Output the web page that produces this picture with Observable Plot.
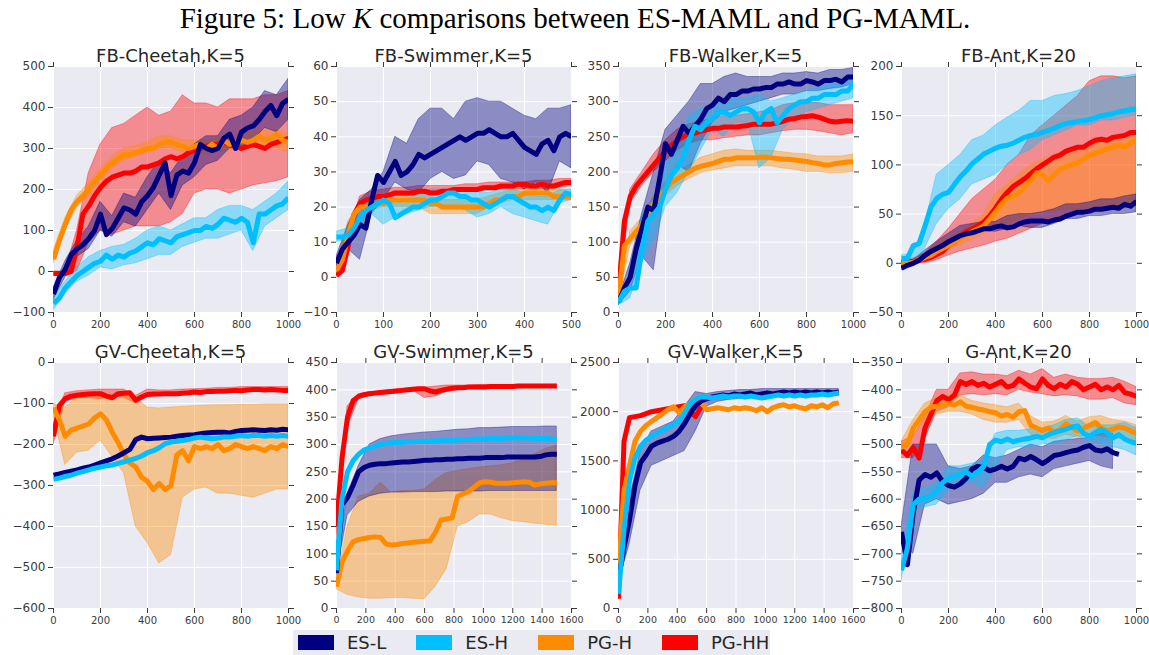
<!DOCTYPE html>
<html><head><meta charset="utf-8">
<script src="https://cdn.jsdelivr.net/npm/d3@7"></script>
<script src="https://cdn.jsdelivr.net/npm/@observablehq/plot@0.6"></script>
<style>
body{margin:0;background:#fff;}
#root{position:relative;width:1149px;height:655px;overflow:hidden;font-family:"DejaVu Sans",sans-serif;background:#fff;}
#legend{position:absolute;left:293px;top:630px;width:477px;height:25px;background:#EAEAF2;display:flex;align-items:center;padding-left:5px;box-sizing:border-box;font-family:"DejaVu Sans",sans-serif;font-size:18px;color:#262626;white-space:nowrap;}
#legend .sw{width:36px;height:15px;margin-right:13px;flex:0 0 auto;}
#legend .lb{margin-right:30px;line-height:25px;flex:0 0 auto;white-space:nowrap;}
</style></head><body><div id="root"></div>
<script>
// ---------- shared x grids and ticks ----------
const X1000 = [0,25,50,75,100,125,150,175,200,225,250,275,300,325,350,375,400,425,450,475,500,525,550,575,600,625,650,675,700,725,750,775,800,825,850,875,900,925,950,975,1000];
const B1000 = [0,50,100,150,200,250,300,350,400,450,500,550,600,650,700,750,800,850,900,950,1000];
const X500 = [0,12.5,25,37.5,50,62.5,75,87.5,100,112.5,125,137.5,150,162.5,175,187.5,200,212.5,225,237.5,250,262.5,275,287.5,300,312.5,325,337.5,350,362.5,375,387.5,400,412.5,425,437.5,450,462.5,475,487.5,500];
const B500 = [0,25,50,75,100,125,150,175,200,225,250,275,300,325,350,375,400,425,450,475,500];
const X1500 = [0,37.5,75,112.5,150,187.5,225,262.5,300,337.5,375,412.5,450,487.5,525,562.5,600,637.5,675,712.5,750,787.5,825,862.5,900,937.5,975,1012.5,1050,1087.5,1125,1162.5,1200,1237.5,1275,1312.5,1350,1387.5,1425,1462.5,1500];
const B1500 = [0,75,150,225,300,375,450,525,600,675,750,825,900,975,1050,1125,1200,1275,1350,1425,1500];

const XT1000 = [0,200,400,600,800,1000];
const XT500 = [0,100,200,300,400,500];
const XT1600 = [0,200,400,600,800,1000,1200,1400,1600];
const YT_fbCheetah = [-100,0,100,200,300,400,500];
const YT_fbSwimmer = [-10,0,10,20,30,40,50,60];
const YT_fbWalker = [0,50,100,150,200,250,300,350];
const YT_fbAnt = [-50,0,50,100,150,200];
const YT_gvCheetah = [-600,-500,-400,-300,-200,-100,0];
const YT_gvSwimmer = [0,50,100,150,200,250,300,350,400,450];
const YT_gvWalker = [0,500,1000,1500,2000,2500];
const YT_gAnt = [-800,-750,-700,-650,-600,-550,-500,-450,-400,-350];

const SERIES = ["ES-L","ES-H","PG-H","PG-HH"];
const COLORS = ["#000080","#00BFFF","#FF8C00","#FF0000"];

// ---------- FB-Cheetah ----------
const fbCheetah_ESL = [-55,-15,5,40,55,65,80,100,140,90,105,130,155,150,140,170,185,205,235,265,185,235,245,240,265,310,300,295,300,325,335,300,340,350,355,370,390,405,380,410,420];
const fbCheetah_ESL_lo = [-70,-15,35,55,100,85,120,110,150,190,150,210,230,260,270,300,300,320,350,340,370];
const fbCheetah_ESL_hi = [-40,25,75,110,170,135,190,180,230,270,240,280,310,330,330,370,380,400,440,430,470];
const fbCheetah_ESH = [-78,-65,-40,-25,-10,0,10,20,25,40,30,40,35,45,50,60,70,65,80,75,70,85,90,95,100,100,110,105,115,130,125,120,130,120,70,140,140,150,160,165,180];
const fbCheetah_ESH_lo = [-95,-55,-25,-10,10,5,15,20,30,40,40,60,70,80,80,90,100,50,110,130,150];
const fbCheetah_ESH_hi = [-60,-25,10,35,50,60,65,80,100,110,100,115,130,130,150,160,160,150,170,190,220];
const fbCheetah_PGH = [30,75,115,150,170,185,200,220,235,250,265,275,285,285,290,295,300,300,310,315,315,310,305,300,305,310,300,310,300,320,310,315,320,315,320,330,320,325,335,320,315];
const fbCheetah_PGH_lo = [20,100,155,185,220,250,270,280,290,300,300,290,290,285,290,295,300,300,305,300,290];
const fbCheetah_PGH_hi = [50,130,185,215,250,280,300,305,315,330,330,320,320,320,325,330,335,340,345,345,335];
const fbCheetah_PGHH = [-5,-5,-5,0,60,140,160,185,205,220,230,235,240,240,245,255,255,260,265,275,280,275,280,290,295,300,305,310,310,315,310,305,300,305,310,305,300,310,315,320,325];
const fbCheetah_PGHH_lo = [-10,-10,0,70,100,90,100,110,110,110,120,140,190,200,200,190,200,210,215,220,230];
const fbCheetah_PGHH_hi = [0,0,100,240,310,350,360,380,400,380,390,430,410,410,400,420,420,420,430,430,440];

// ---------- FB-Swimmer ----------
const fbSwimmer_ESL = [4,8,10,12,15,14,22,29,27,30,33,29,30,32,35,34,35,36,37,38,39,40,39,40,41,41,42,41,40,40,41,39,37,36,35,38,39,36,40,41,40];
const fbSwimmer_ESL_lo = [3,8,5,18,22,27,25,24,28,30,28,29,33,32,28,27,25,27,24,33,31];
const fbSwimmer_ESL_hi = [6,15,22,25,30,40,38,45,48,48,45,50,51,50,50,48,46,45,48,48,49];
const fbSwimmer_ESH = [11.5,11.5,12,14,17,19,20,21,22,21,17,18,19,20,20,21,22,22,23,24,24,23,23,22,22,21,20,21,22,23,23,22,21,20,20,19,20,19,22,24,23.5];
const fbSwimmer_ESH_lo = [10,11,15,18,15,17,18,19,20,20,20,19,17,18,20,18,17,16,15,21,22];
const fbSwimmer_ESH_hi = [13,14,20,22,23,21,22,24,25,25,25,25,24,24,25,25,24,23,23,25,25];
const fbSwimmer_PGH = [2,5,12,18,20,20,20,21,21,22,22,22,22,22,22,22,21,21,20,20,20,20,20,20,20,20,21,22,22,23,23,23,24,24,24,24,24,23,23,23,23];
const fbSwimmer_PGH_lo = [1,10,19,19,20,20,20,20,18,18,18,18,18,20,21,22,22,22,22,22,22];
const fbSwimmer_PGH_hi = [3,16,21,23,23,24,24,24,23,22,22,22,22,23,24,25,25,26,26,25,24];
const fbSwimmer_PGHH = [0.5,2,9,18,21,22,22.5,23,23,23.5,24,24,24,24,24.5,24.5,24,24,24.5,24.5,25,25,25,25,25,25.5,25.5,25.5,26,26,26,26.5,26.5,26,26,26.5,26,26,26.5,27,27];
const fbSwimmer_PGHH_lo = [0,6,20,22,23,23,23,23.5,24,24,24.5,24.5,24.5,25,25,25,25,25,25,25.5,26];
const fbSwimmer_PGHH_hi = [1,12,23,24.5,25,25.5,25.5,26,26,26,26,26.5,26.5,27,27,27,27,27.5,27.5,28,28];

// ---------- FB-Walker ----------
const fbWalker_ESL = [15,35,50,90,120,150,145,190,240,225,245,265,255,265,275,290,295,305,300,310,310,315,315,318,318,320,320,325,325,328,325,325,330,328,325,330,330,332,328,335,335];
const fbWalker_ESL_lo = [10,30,80,60,180,210,200,240,270,285,290,295,300,305,310,310,315,315,318,320,325];
const fbWalker_ESL_hi = [20,70,140,200,260,280,300,325,325,335,340,335,335,335,340,340,342,340,345,345,348];
const fbWalker_ESH = [15,30,35,35,90,130,140,150,175,195,205,220,245,265,260,270,275,285,285,280,285,290,290,285,270,285,290,270,280,290,295,300,300,305,305,310,310,310,315,315,325];
const fbWalker_ESH_lo = [10,20,70,100,150,170,200,230,260,250,270,270,205,220,260,275,285,290,295,300,305];
const fbWalker_ESH_hi = [25,50,140,160,210,230,280,290,295,300,305,305,310,300,305,310,315,320,325,330,340];
const fbWalker_PGH = [20,95,105,115,125,140,155,165,175,185,190,195,200,205,208,210,212,215,218,218,220,220,220,220,221,221,220,219,218,218,217,216,215,213,212,210,210,212,213,214,214];
const fbWalker_PGH_lo = [15,95,115,145,165,180,190,198,202,205,208,208,208,208,205,203,200,200,198,198,200];
const fbWalker_PGH_hi = [25,115,135,165,185,200,210,220,225,230,232,230,230,230,228,226,225,222,222,222,225];
const fbWalker_PGHH = [30,130,165,180,190,200,210,220,230,238,245,250,255,255,258,260,262,262,264,264,264,265,266,268,268,268,268,270,272,275,276,278,279,280,278,275,272,271,272,273,272];
const fbWalker_PGHH_lo = [25,155,180,200,215,230,240,245,245,248,250,252,252,255,258,260,260,258,255,252,255];
const fbWalker_PGHH_hi = [35,175,200,225,245,260,268,272,275,280,280,282,285,288,295,298,298,298,295,295,295];

// ---------- FB-Ant ----------
const fbAnt_ESL = [-5,-2,0,3,8,12,15,18,22,25,28,30,31,33,35,35,37,38,36,37,40,42,43,43,43,42,44,45,48,50,52,52,53,55,55,56,57,56,60,58,63];
const fbAnt_ESL_lo = [-7,-2,8,15,22,28,30,33,32,35,38,36,36,40,45,45,48,48,50,50,52];
const fbAnt_ESL_hi = [-3,3,13,22,30,38,40,42,42,48,50,50,52,55,60,60,62,65,65,68,70];
const fbAnt_ESH = [5,5,18,20,38,57,66,70,72,80,88,94,101,106,111,114,117,119,120,122,125,128,130,131,133,135,137,140,142,143,144,145,146,148,150,151,152,154,155,156,157];
const fbAnt_ESH_lo = [0,0,15,40,55,65,80,85,90,100,110,115,125,130,135,140,140,145,145,148,150];
const fbAnt_ESH_hi = [8,10,40,90,100,110,125,130,140,148,155,165,165,170,172,175,180,185,188,190,192];
const fbAnt_PGH = [0,0,1,3,6,8,12,15,18,22,25,29,32,35,38,45,52,60,66,68,72,78,84,92,90,84,90,96,98,100,102,106,110,112,114,116,118,120,118,122,126];
const fbAnt_PGH_lo = [-2,0,3,8,14,18,24,30,35,40,45,50,52,53,55,55,56,58,58,60,62];
const fbAnt_PGH_hi = [2,3,10,20,25,32,40,50,70,80,90,100,105,110,115,118,122,125,128,130,132];
const fbAnt_PGHH = [0,1,2,3,4,6,9,12,18,22,28,32,35,38,42,48,56,65,72,78,82,86,91,96,100,104,108,110,114,116,118,118,122,125,126,125,128,129,130,133,133];
const fbAnt_PGHH_lo = [-3,-1,0,3,8,12,15,18,22,25,30,35,40,45,48,50,52,54,55,56,58];
const fbAnt_PGHH_hi = [3,5,10,22,35,50,65,75,85,100,110,130,140,150,160,170,185,190,190,188,190];

// ---------- GV-Cheetah ----------
const gvCheetah_ESL = [-275,-272,-268,-265,-262,-258,-255,-250,-245,-240,-235,-228,-220,-212,-188,-182,-186,-185,-184,-183,-182,-180,-178,-177,-176,-174,-172,-171,-170,-170,-172,-168,-166,-165,-164,-165,-166,-164,-165,-163,-164];
const gvCheetah_ESH = [-285,-282,-278,-275,-270,-266,-262,-258,-255,-252,-250,-246,-242,-238,-234,-228,-220,-215,-208,-198,-194,-192,-190,-188,-184,-182,-184,-186,-184,-182,-182,-180,-178,-180,-178,-178,-180,-178,-180,-178,-180];
const gvCheetah_PGH = [-110,-140,-180,-165,-160,-155,-150,-135,-125,-140,-170,-195,-225,-245,-255,-280,-290,-310,-295,-310,-300,-225,-215,-240,-205,-210,-205,-210,-200,-215,-210,-200,-205,-210,-205,-210,-215,-205,-210,-200,-205];
const gvCheetah_PGH_lo = [-130,-250,-220,-215,-190,-230,-270,-400,-440,-490,-470,-330,-310,-305,-320,-320,-325,-330,-320,-310,-310];
const gvCheetah_PGH_hi = [-100,-110,-85,-80,-78,-80,-82,-85,-110,-112,-110,-108,-106,-105,-104,-104,-103,-103,-102,-102,-102];
const gvCheetah_PGHH = [-180,-105,-88,-82,-80,-78,-77,-76,-76,-82,-86,-76,-75,-74,-92,-84,-78,-77,-77,-76,-76,-76,-75,-74,-72,-73,-71,-71,-70,-70,-69,-68,-69,-67,-66,-66,-67,-66,-67,-68,-68];
const gvCheetah_PGHH_lo = [-200,-95,-88,-86,-90,-82,-86,-100,-84,-82,-80,-78,-78,-76,-74,-74,-72,-72,-72,-72,-72];
const gvCheetah_PGHH_hi = [-150,-75,-70,-68,-66,-66,-66,-82,-66,-68,-68,-66,-65,-64,-62,-62,-60,-60,-60,-60,-60];

// ---------- GV-Swimmer ----------
const gvSwimmer_ESL = [65,190,203,225,250,258,262,264,265,265,266,267,268,268,269,270,271,271,272,272,273,273,274,274,275,275,275,276,276,276,276,277,277,277,277,277,277,278,281,282,282];
const gvSwimmer_ESL_lo = [60,170,195,205,210,212,212,213,213,213,214,214,214,214,215,215,215,215,215,215,215];
const gvSwimmer_ESL_hi = [70,210,260,300,310,315,318,320,322,323,325,327,328,330,330,331,332,332,332,333,333];
const gvSwimmer_ESH = [70,200,250,270,282,290,294,297,300,302,303,304,304,305,305,306,306,306,307,307,308,308,308,309,309,310,310,310,311,311,311,312,312,312,312,312,311,311,311,310,309];
const gvSwimmer_PGH = [40,85,105,122,126,128,130,131,130,118,116,117,119,120,121,122,123,124,140,162,164,166,205,210,214,222,230,232,231,229,229,229,230,231,232,231,226,228,229,230,230];
const gvSwimmer_PGH_lo = [35,25,20,18,18,19,19,18,17,40,72,150,158,172,172,165,160,158,155,153,152];
const gvSwimmer_PGH_hi = [45,150,205,210,230,212,215,215,218,235,248,252,255,258,260,262,266,272,282,292,298];
const gvSwimmer_PGHH = [150,275,350,380,388,391,393,394,395,396,397,398,399,400,401,402,402,398,396,399,401,403,404,404,405,405,405,405,406,406,406,406,406,407,407,407,407,407,407,407,407];
const gvSwimmer_PGHH_lo = [130,330,383,389,392,394,396,398,385,388,396,400,402,403,404,404,405,405,405,405,405];
const gvSwimmer_PGHH_hi = [170,370,392,396,398,400,402,404,404,406,408,408,408,409,409,409,409,409,409,409,409];

// ---------- GV-Walker ----------
const gvWalker_ESL = [300,620,900,1250,1480,1560,1650,1680,1700,1720,1750,1800,1880,1980,2060,2110,2130,2150,2160,2170,2160,2180,2170,2180,2190,2170,2180,2190,2180,2190,2200,2190,2200,2190,2200,2190,2200,2190,2200,2190,2200];
const gvWalker_ESL_lo = [250,650,1200,1450,1500,1550,1600,1800,2050,2100,2120,2130,2140,2140,2150,2150,2160,2160,2160,2160,2160];
const gvWalker_ESL_hi = [350,1100,1600,1800,1850,1900,2050,2200,2180,2200,2210,2220,2220,2230,2230,2230,2230,2230,2230,2230,2230];
const gvWalker_ESH = [150,800,1300,1530,1650,1710,1750,1780,1810,1840,1870,1900,1990,2080,2130,2150,2150,2140,2150,2160,2150,2160,2160,2150,2160,2150,2140,2150,2160,2170,2160,2170,2160,2170,2160,2170,2170,2180,2170,2180,2190];
const gvWalker_PGH = [400,1200,1450,1700,1800,1860,1900,1940,1980,2020,2050,1990,2050,2080,2140,2100,2020,2030,2040,2030,2020,2040,2030,2040,2030,2010,2040,2000,2040,2060,2070,2050,2060,2040,2030,2060,2050,2070,2040,2080,2090];
const gvWalker_PGHH = [100,1700,1940,1950,1960,1980,2000,2010,2020,2030,2040,2050,2060,2000,1950,2050];

// ---------- G-Ant ----------
const gAnt_ESL = [-660,-720,-625,-565,-555,-560,-552,-568,-575,-578,-572,-562,-545,-540,-542,-548,-545,-540,-545,-540,-525,-528,-522,-528,-535,-528,-520,-518,-515,-512,-510,-505,-502,-510,-512,-508,-515,-518];
const gAnt_ESL_lo = [-680,-700,-610,-600,-610,-605,-600,-590,-570,-570,-560,-555,-560,-545,-540,-535,-530,-540,-545];
const gAnt_ESL_hi = [-650,-500,-500,-500,-540,-545,-540,-520,-525,-520,-510,-500,-505,-495,-492,-490,-488,-480,-480];
const gAnt_ESH = [-730,-690,-610,-600,-598,-595,-585,-570,-562,-558,-555,-550,-558,-550,-540,-500,-492,-495,-490,-495,-492,-490,-488,-485,-488,-482,-478,-475,-472,-468,-466,-480,-485,-478,-472,-478,-488,-482,-490,-495,-498];
const gAnt_ESH_lo = [-750,-620,-615,-610,-585,-575,-570,-580,-545,-510,-505,-505,-500,-500,-492,-485,-495,-500,-505,-510,-520];
const gAnt_ESH_hi = [-700,-590,-580,-570,-540,-540,-535,-530,-480,-475,-475,-472,-470,-465,-455,-452,-468,-465,-465,-460,-470];
const gAnt_PGH = [-505,-500,-470,-455,-440,-432,-430,-428,-425,-428,-422,-430,-432,-435,-437,-440,-442,-448,-445,-450,-440,-438,-465,-470,-475,-470,-478,-472,-462,-470,-475,-470,-465,-460,-470,-475,-472,-468,-470,-475,-480];
const gAnt_PGH_lo = [-515,-485,-455,-445,-440,-440,-445,-455,-460,-460,-455,-482,-488,-490,-482,-488,-482,-485,-488,-490,-495];
const gAnt_PGH_hi = [-495,-455,-425,-415,-410,-410,-420,-425,-428,-432,-425,-448,-460,-458,-448,-458,-450,-448,-455,-458,-465];
const gAnt_PGHH = [-510,-520,-505,-525,-470,-445,-420,-412,-418,-410,-385,-390,-385,-392,-388,-395,-390,-385,-395,-392,-380,-388,-395,-398,-380,-392,-398,-390,-395,-385,-390,-400,-395,-390,-400,-395,-400,-392,-405,-408,-412];
const gAnt_PGHH_lo = [-525,-525,-490,-440,-432,-410,-408,-410,-408,-410,-400,-405,-408,-412,-410,-412,-418,-418,-415,-425,-428];
const gAnt_PGHH_hi = [-495,-485,-450,-400,-400,-370,-368,-372,-372,-375,-365,-372,-362,-378,-372,-378,-380,-380,-378,-385,-395];

// ---------- panel configuration (built from the arrays above) ----------
const panels = [
  {title:"FB-Cheetah,K=5", left:53, top:66, xd:[0,1000], xt:XT1000, yd:[-100,500], yt:YT_fbCheetah, xs:X1000, bx:B1000,
   s:[[fbCheetah_ESL,fbCheetah_ESL_lo,fbCheetah_ESL_hi],[fbCheetah_ESH,fbCheetah_ESH_lo,fbCheetah_ESH_hi],[fbCheetah_PGH,fbCheetah_PGH_lo,fbCheetah_PGH_hi],[fbCheetah_PGHH,fbCheetah_PGHH_lo,fbCheetah_PGHH_hi]]},
  {title:"FB-Swimmer,K=5", left:336, top:66, xd:[0,500], xt:XT500, yd:[-10,60], yt:YT_fbSwimmer, xs:X500, bx:B500,
   s:[[fbSwimmer_ESL,fbSwimmer_ESL_lo,fbSwimmer_ESL_hi],[fbSwimmer_ESH,fbSwimmer_ESH_lo,fbSwimmer_ESH_hi],[fbSwimmer_PGH,fbSwimmer_PGH_lo,fbSwimmer_PGH_hi],[fbSwimmer_PGHH,fbSwimmer_PGHH_lo,fbSwimmer_PGHH_hi]]},
  {title:"FB-Walker,K=5", left:618, top:66, xd:[0,1000], xt:XT1000, yd:[0,350], yt:YT_fbWalker, xs:X1000, bx:B1000,
   s:[[fbWalker_ESL,fbWalker_ESL_lo,fbWalker_ESL_hi],[fbWalker_ESH,fbWalker_ESH_lo,fbWalker_ESH_hi],[fbWalker_PGH,fbWalker_PGH_lo,fbWalker_PGH_hi],[fbWalker_PGHH,fbWalker_PGHH_lo,fbWalker_PGHH_hi]]},
  {title:"FB-Ant,K=20", left:901, top:66, xd:[0,1000], xt:XT1000, yd:[-50,200], yt:YT_fbAnt, xs:X1000, bx:B1000,
   s:[[fbAnt_ESL,fbAnt_ESL_lo,fbAnt_ESL_hi],[fbAnt_ESH,fbAnt_ESH_lo,fbAnt_ESH_hi],[fbAnt_PGH,fbAnt_PGH_lo,fbAnt_PGH_hi],[fbAnt_PGHH,fbAnt_PGHH_lo,fbAnt_PGHH_hi]]},
  {title:"GV-Cheetah,K=5", left:53, top:362, xd:[0,1000], xt:XT1000, yd:[-600,0], yt:YT_gvCheetah, xs:X1000, bx:B1000,
   s:[[gvCheetah_ESL,null,null],[gvCheetah_ESH,null,null],[gvCheetah_PGH,gvCheetah_PGH_lo,gvCheetah_PGH_hi],[gvCheetah_PGHH,gvCheetah_PGHH_lo,gvCheetah_PGHH_hi]]},
  {title:"GV-Swimmer,K=5", left:336, top:362, xd:[0,1600], xt:XT1600, yd:[0,450], yt:YT_gvSwimmer, xs:X1500, bx:B1500,
   s:[[gvSwimmer_ESL,gvSwimmer_ESL_lo,gvSwimmer_ESL_hi],[gvSwimmer_ESH,null,null],[gvSwimmer_PGH,gvSwimmer_PGH_lo,gvSwimmer_PGH_hi],[gvSwimmer_PGHH,gvSwimmer_PGHH_lo,gvSwimmer_PGHH_hi]]},
  {title:"GV-Walker,K=5", left:618, top:362, xd:[0,1600], xt:XT1600, yd:[0,2500], yt:YT_gvWalker, xs:X1500, bx:B1500,
   s:[[gvWalker_ESL,gvWalker_ESL_lo,gvWalker_ESL_hi],[gvWalker_ESH,null,null],[gvWalker_PGH,null,null],[gvWalker_PGHH,null,null]]},
  {title:"G-Ant,K=20", left:901, top:362, xd:[0,1000], xt:XT1000, yd:[-800,-350], yt:YT_gAnt, xs:X1000, bx:B1000,
   s:[[gAnt_ESL,gAnt_ESL_lo,gAnt_ESL_hi],[gAnt_ESH,gAnt_ESH_lo,gAnt_ESH_hi],[gAnt_PGH,gAnt_PGH_lo,gAnt_PGH_hi],[gAnt_PGHH,gAnt_PGHH_lo,gAnt_PGHH_hi]]}
];

const DRAW_ORDER = [3, 2, 0, 1]; // PG-HH, PG-H, ES-L, ES-H (bottom to top)
const fmt = d => d < 0 ? "\u2212" + Math.abs(d) : String(d);
const lineRows = (xs, ys) => ys.map((y, i) => ({x: xs[i], y}));
const bandRows = (xs, lo, hi) => lo.map((l, i) => ({x: xs[i], lo: l, hi: hi[i]}));

const root = document.getElementById("root");

// overlay for titles (below the plots so top ticks sit over titles)
const ov = d3.select(root).append("svg").attr("width",1149).attr("height",655)
  .style("position","absolute").style("left","0px").style("top","0px");
const ft = ov.append("text").attr("x",575).attr("y",28).attr("text-anchor","middle")
  .attr("font-family","'Liberation Serif','Times New Roman',serif").attr("font-size",29).attr("fill","#000");
ft.append("tspan").text("Figure 5: Low ");
ft.append("tspan").attr("font-style","italic").text("K");
ft.append("tspan").text(" comparisons between ES-MAML and PG-MAML.");

const W = 235, H = 246, mL = 50, mR = 14, mT = 14, mB = 26;

for (const p of panels) {
  ov.append("text").attr("x", p.left + W/2).attr("y", p.top - 4).attr("text-anchor","middle")
    .attr("font-family","'DejaVu Sans',sans-serif").attr("font-size",18).attr("fill","#262626").text(p.title);

  const marks = [
    Plot.frame({fill:"#EAEAF2", stroke:"none"}),
    Plot.gridX(p.xt, {stroke:"#ffffff", strokeOpacity:1, strokeWidth:1}),
    Plot.gridY(p.yt, {stroke:"#ffffff", strokeOpacity:1, strokeWidth:1})
  ];
  for (const k of DRAW_ORDER) {
    const [m, lo, hi] = p.s[k];
    if (lo) marks.push(Plot.areaY(bandRows(p.bx, lo, hi), {x:"x", y1:"lo", y2:"hi", fill:COLORS[k], fillOpacity:0.4,
      stroke:COLORS[k], strokeOpacity:0.35, strokeWidth:1, clip:true}));
  }
  for (const k of DRAW_ORDER) {
    const [m] = p.s[k];
    marks.push(Plot.line(lineRows(p.xs, m), {x:"x", y:"y", stroke:COLORS[k], strokeWidth:5,
      strokeLinejoin:"round", strokeLinecap:"butt", clip:true}));
  }
  const xFont = p.xd[1] > 1000 ? 9.5 : 10;
  marks.push(
    Plot.axisY(p.yt, {anchor:"left", tickSize:5, tickPadding:3, fontSize:12, tickFormat:fmt, label:null}),
    Plot.axisY(p.yt, {anchor:"right", tickSize:5, tickFormat:() => "", label:null}),
    Plot.axisX(p.xt, {anchor:"bottom", tickSize:5, tickPadding:3, fontSize:xFont, tickFormat:fmt, label:null}),
    Plot.axisX(p.xt, {anchor:"top", tickSize:5, tickFormat:() => "", label:null})
  );
  const svg = Plot.plot({
    width: W + mL + mR, height: H + mT + mB,
    marginLeft: mL, marginRight: mR, marginTop: mT, marginBottom: mB,
    x: {domain: p.xd, label: null},
    y: {domain: p.yd, label: null},
    style: {background: "transparent", color: "#3a3a3a", fontFamily: "'DejaVu Sans',sans-serif", overflow: "visible"},
    marks
  });
  svg.style.position = "absolute";
  svg.style.left = (p.left - mL) + "px";
  svg.style.top = (p.top - mT) + "px";
  root.appendChild(svg);
}

// legend
const lg = document.createElement("div");
lg.id = "legend";
SERIES.forEach((name, i) => {
  const sw = document.createElement("div"); sw.className = "sw"; sw.style.background = COLORS[i];
  const lb = document.createElement("div"); lb.className = "lb"; lb.textContent = name;
  lg.appendChild(sw); lg.appendChild(lb);
});
root.appendChild(lg);
</script></body></html>
